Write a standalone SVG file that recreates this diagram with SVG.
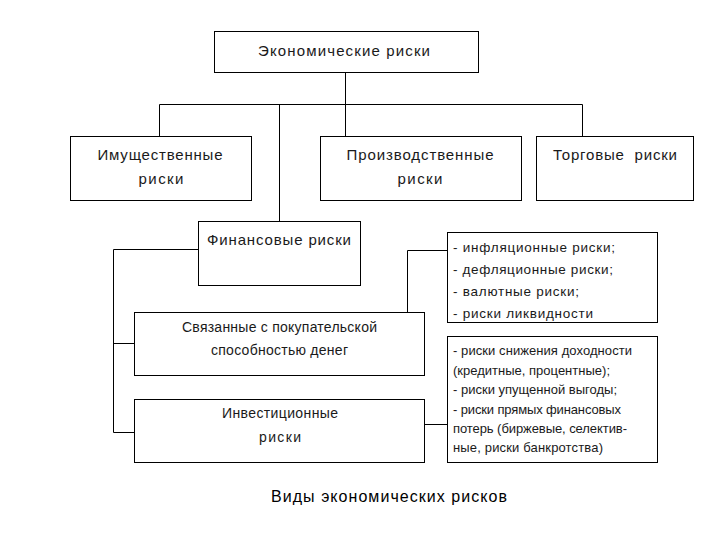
<svg xmlns="http://www.w3.org/2000/svg" width="720" height="540" viewBox="0 0 720 540">
<style>
.box{fill:#fff;stroke:#000;stroke-width:1}
.ln{fill:none;stroke:#000;stroke-width:1}
text{font-family:"Liberation Sans",Arial,sans-serif;font-size:15px;fill:#1a1a1a}
.c{text-anchor:middle}
.m{font-size:14px}
.s{font-size:13.5px}
.t{font-size:13px}
.cap{font-size:16px;fill:#000}
</style>
<rect width="720" height="540" fill="#fff"/>
<g id="connectors">
<path class="ln" d="M345.5 72V104.5M159.5 136V104.5H582.5V136M345.5 104.5V136M279.5 104.5V221"/>
<path class="ln" d="M198 249.5H113.5V432.5H134M113.5 343.5H134"/>
<path class="ln" d="M407.5 312V250.5H448M424 424.5H448"/>
</g>
<g id="n-econ"><rect class="box" x="214.5" y="31.5" width="264" height="41"/><text class="c" x="344" y="56" textLength="172" lengthAdjust="spacing">Экономические риски</text></g>
<g id="n-imush"><rect class="box" x="70.5" y="136.5" width="181" height="64"/><text class="c" x="160" y="160" textLength="125" lengthAdjust="spacing">Имущественные</text><text class="c" x="161" y="184" textLength="45" lengthAdjust="spacing">риски</text></g>
<g id="n-proizv"><rect class="box" x="320.5" y="136.5" width="201" height="64"/><text class="c" x="420" y="160" textLength="147" lengthAdjust="spacing">Производственные</text><text class="c" x="420" y="184" textLength="45" lengthAdjust="spacing">риски</text></g>
<g id="n-torg"><rect class="box" x="536.5" y="136.5" width="157" height="64"/><text class="c" x="615" y="160" xml:space="preserve" textLength="124" lengthAdjust="spacing">Торговые  риски</text></g>
<g id="n-fin"><rect class="box" x="198.5" y="221.5" width="162" height="64"/><text class="c" x="279" y="245" textLength="144" lengthAdjust="spacing">Финансовые риски</text></g>
<g id="n-svyaz"><rect class="box" x="134.5" y="312.5" width="290" height="63"/><text class="c m" x="279.5" y="332" textLength="195" lengthAdjust="spacing">Связанные с покупательской</text><text class="c m" x="279.5" y="355" textLength="137" lengthAdjust="spacing">способностью денег</text></g>
<g id="n-invest"><rect class="box" x="134.5" y="399.5" width="290" height="63"/><text class="c m" x="280" y="418" textLength="116" lengthAdjust="spacing">Инвестиционные</text><text class="c m" x="280" y="442" textLength="42" lengthAdjust="spacing">риски</text></g>
<g id="n-list1"><rect class="box" x="447.5" y="232.5" width="210" height="90"/>
<text class="s" x="453" y="252" textLength="162" lengthAdjust="spacing">- инфляционные риски;</text>
<text class="s" x="453" y="274" textLength="160" lengthAdjust="spacing">- дефляционные риски;</text>
<text class="s" x="453" y="296" textLength="126" lengthAdjust="spacing">- валютные риски;</text>
<text class="s" x="453" y="318" textLength="140" lengthAdjust="spacing">- риски ликвидности</text></g>
<g id="n-list2"><rect class="box" x="447.5" y="336.5" width="210" height="126"/>
<text class="t" x="453" y="355" textLength="179" lengthAdjust="spacing">- риски снижения доходности</text>
<text class="t" x="453" y="375" textLength="157" lengthAdjust="spacing">(кредитные, процентные);</text>
<text class="t" x="453" y="394" textLength="164" lengthAdjust="spacing">- риски упущенной выгоды;</text>
<text class="t" x="453" y="414" textLength="168" lengthAdjust="spacing">- риски прямых финансовых</text>
<text class="t" x="453" y="433" textLength="174" lengthAdjust="spacing">потерь (биржевые, селектив-</text>
<text class="t" x="453" y="452" textLength="150" lengthAdjust="spacing">ные, риски банкротства)</text></g>
<text class="c cap" x="389" y="502" textLength="236" lengthAdjust="spacing">Виды экономических рисков</text>
</svg>
